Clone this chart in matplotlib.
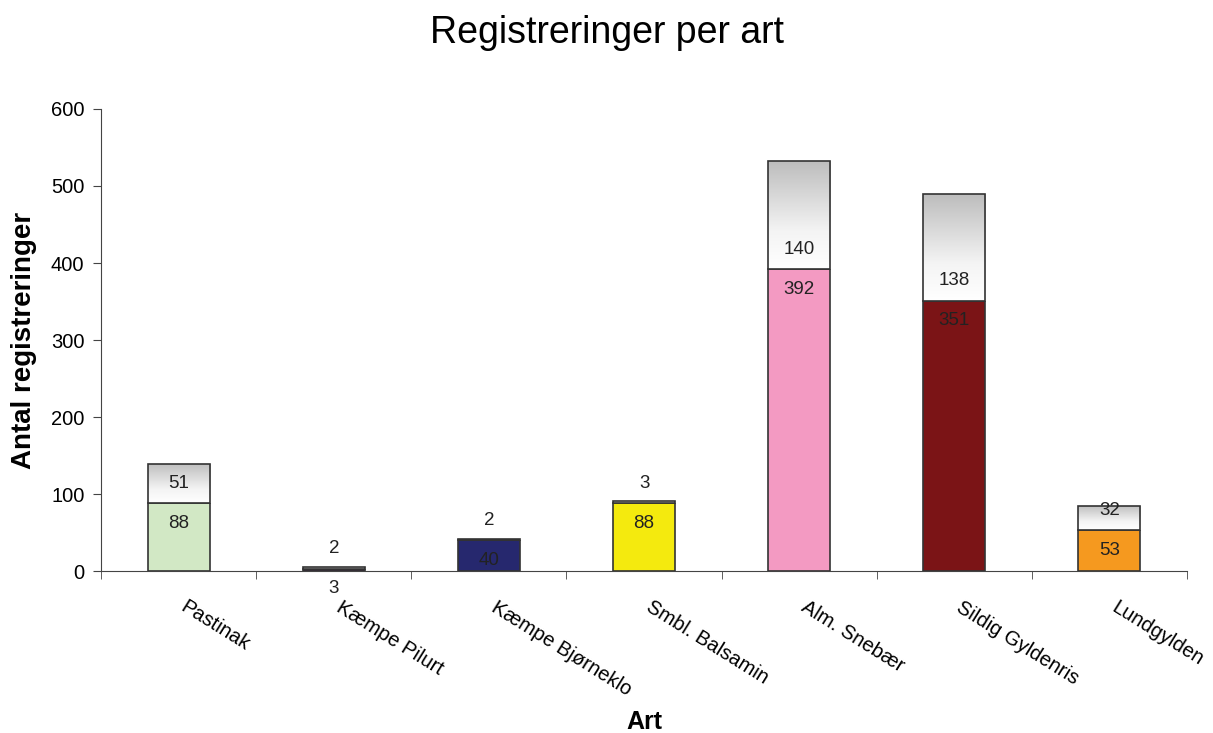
import numpy as np
import matplotlib
matplotlib.use('Agg')
import matplotlib.pyplot as plt
import matplotlib.transforms as mtransforms
from matplotlib.colors import LinearSegmentedColormap
from matplotlib.patches import Rectangle

plt.rcParams['font.family'] = ['Liberation Sans', 'DejaVu Sans']

# ── data ──────────────────────────────────────────────
arter = ['Pastinak', 'Kæmpe Pilurt', 'Kæmpe Bjørneklo', 'Smbl. Balsamin',
         'Alm. Snebær', 'Sildig Gyldenris', 'Lundgylden']
nederst = [88, 3, 40, 88, 392, 351, 53]
oeverst = [51, 2, 2, 3, 140, 138, 32]
farver = ['#d2e8c5', '#3b1340', '#26286e', '#f4ea0e', '#f39ac2', '#7b1416', '#f5991f']
yticks = [0, 100, 200, 300, 400, 500, 600]

fig = plt.figure(figsize=(12.13, 7.33), dpi=100)
ax = fig.add_axes([0.0833, 0.221, 0.8953, 0.6303])

x = np.arange(len(arter))
w = 0.4
edge = '#333333'

ax.bar(x, nederst, w, color=farver, edgecolor=edge, linewidth=1.2, zorder=2)

# top segment: grey -> white gradient
grad = LinearSegmentedColormap.from_list('g', [(0, '#ffffff'), (0.35, '#f4f4f4'), (1, '#bdbdbd')])
img = np.linspace(0, 1, 256).reshape(-1, 1)
for xi, b, t in zip(x, nederst, oeverst):
    im = ax.imshow(img, cmap=grad, aspect='auto', origin='lower',
                   extent=(xi - w / 2, xi + w / 2, b, b + t), zorder=2)
    r = Rectangle((xi - w / 2, b), w, t, facecolor='none', edgecolor=edge,
                  linewidth=1.2, zorder=3)
    ax.add_patch(r)
    im.set_clip_path(r)

# value labels
for xi, b, t in zip(x, nederst, oeverst):
    ax.annotate(str(t), (xi, b), xytext=(0, 14.5), textcoords='offset points',
                ha='center', va='center', fontsize=13.5, color='#222222', zorder=4)
    ax.annotate(str(b), (xi, b), xytext=(0, -14.5), textcoords='offset points',
                ha='center', va='center', fontsize=13.5, color='#222222', zorder=4)

ax.set_xlim(-0.5, len(arter) - 0.5)
ax.set_ylim(0, 600)
ax.set_yticks(yticks)
ax.tick_params(axis='y', direction='out', length=6, labelsize=14.5, color='#444444', pad=6)
ax.set_xticks(x)
ax.set_xticklabels(arter, rotation=-32, ha='left', va='top', rotation_mode='anchor', fontsize=14.5)
ax.tick_params(axis='x', which='major', length=0, pad=19)
shift = mtransforms.ScaledTranslation(9 / 100, 0, fig.dpi_scale_trans)
for lab in ax.get_xticklabels():
    lab.set_transform(lab.get_transform() + shift)
ax.set_xticks(np.arange(-0.5, len(arter)), minor=True)
ax.tick_params(axis='x', which='minor', direction='out', length=6, color='#444444')

for s in ['top', 'right']:
    ax.spines[s].set_visible(False)
for s in ['left', 'bottom']:
    ax.spines[s].set_color('#444444')

ax.set_ylabel('Antal registreringer', fontsize=20, fontweight='bold')
ax.yaxis.set_label_coords(-0.059, 0.5)
ax.set_xlabel('Art', fontsize=18, fontweight='bold', va='center')
ax.xaxis.set_label_coords(0.5, -(722 - 571) / 462)
fig.text(0.5, 1 - 33 / 733, 'Registreringer per art', fontsize=27, ha='center', va='center')

plt.savefig('out.png', dpi=100)
